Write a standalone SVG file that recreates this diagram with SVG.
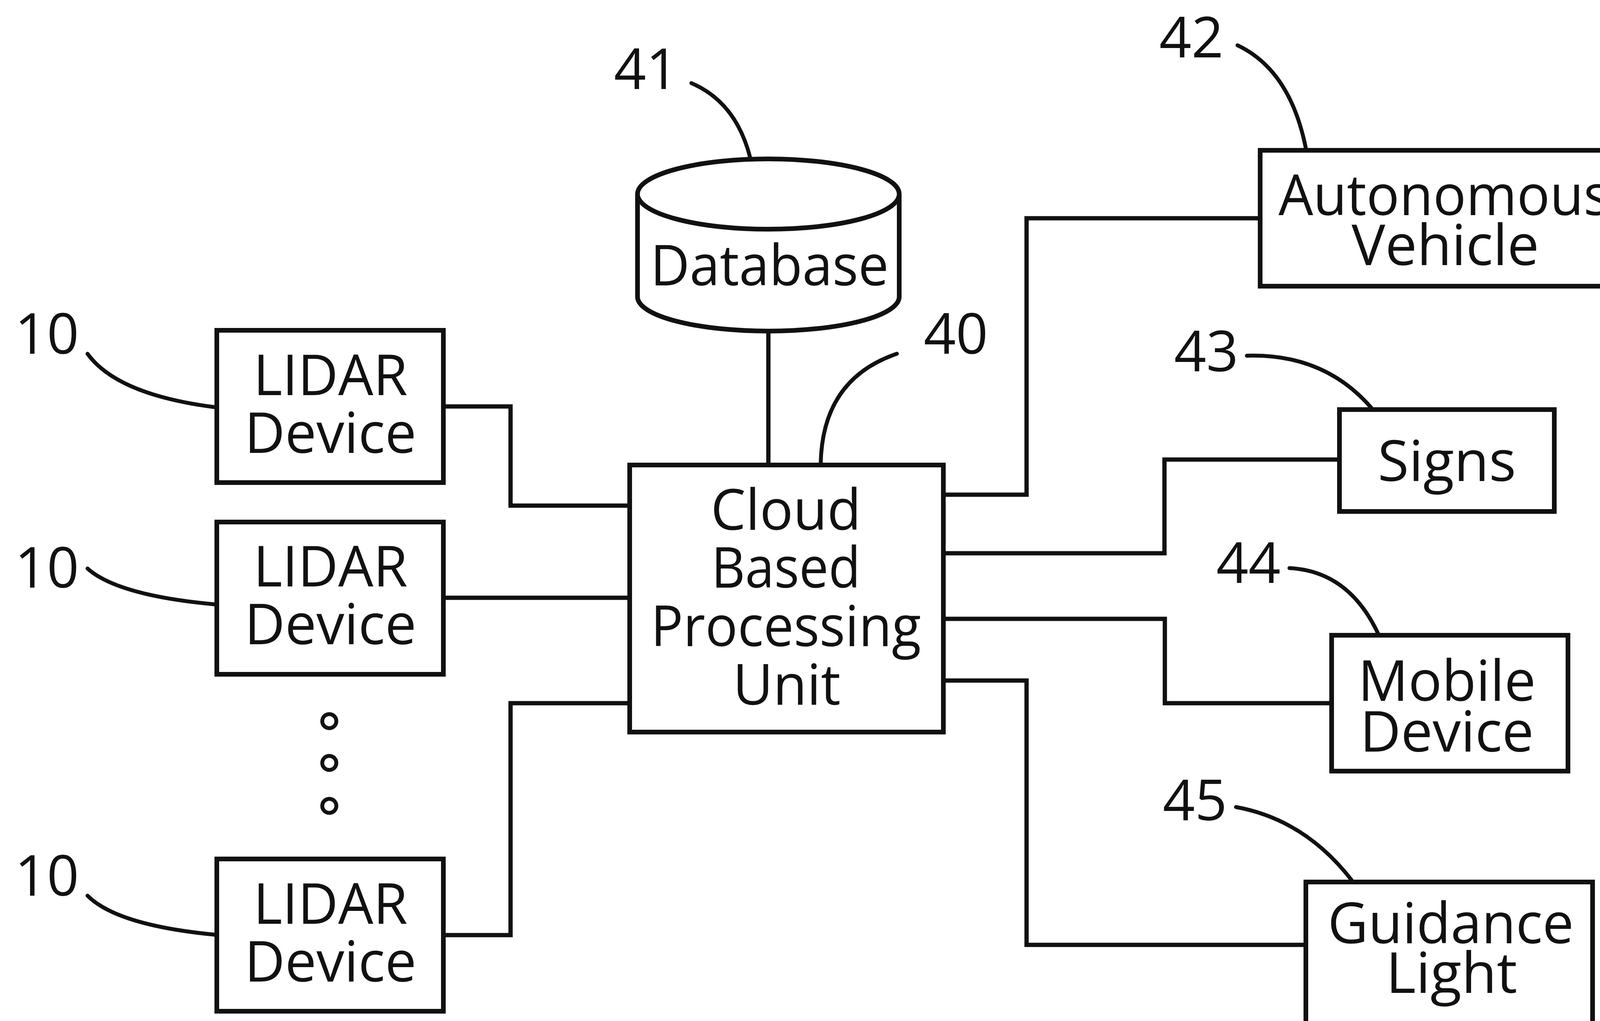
<svg xmlns="http://www.w3.org/2000/svg" width="4152" height="2615" viewBox="0 0 4152 2615">
  <style>
    .box { fill: #fff; stroke: #111; stroke-width: 12; }
    .open { fill: none; stroke: #111; stroke-width: 12; }
    .wire { fill: none; stroke: #111; stroke-width: 11; stroke-linejoin: miter; }
    .lead { fill: none; stroke: #111; stroke-width: 10; stroke-linecap: round; }
    .dot { fill: #fff; stroke: #111; stroke-width: 10; }
    text { font-family: "Open Sans", "Noto Sans", "Liberation Sans", sans-serif; font-size: 144px; fill: #111; text-anchor: middle; }
  </style>
  <rect width="4152" height="2615" fill="#fff"/>

  <g id="connectors">
    <path class="wire" d="M1967,848 V1188"/>
    <path class="wire" d="M1137,1041 H1307 V1295 H1607"/>
    <path class="wire" d="M1137,1531 H1607"/>
    <path class="wire" d="M1137,2395 H1307 V1801 H1607"/>
    <path class="wire" d="M2417,1267 H2628 V559 H3221"/>
    <path class="wire" d="M2417,1417 H2981 V1177 H3424"/>
    <path class="wire" d="M2417,1585 H2982 V1801 H3404"/>
    <path class="wire" d="M2417,1743 H2628 V2420 H3338"/>
  </g>

  <g id="leaders">
    <path class="lead" d="M224,906 Q300,1011 551,1043"/>
    <path class="lead" d="M224,1456 Q300,1525 551,1548"/>
    <path class="lead" d="M224,2294 Q300,2370 551,2394"/>
    <path class="lead" d="M1770,213 Q1885,262 1921,406"/>
    <path class="lead" d="M2296,906 Q2105,971 2101,1188"/>
    <path class="lead" d="M3168,116 Q3303,180 3343,380"/>
    <path class="lead" d="M3192,911 Q3390,905 3511,1045"/>
    <path class="lead" d="M3301,1455 Q3453,1463 3528,1623"/>
    <path class="lead" d="M3164,2067 Q3340,2099 3460,2254"/>
  </g>

  <g id="lidar1">
    <rect class="box" x="555" y="846" width="580" height="390"/>
    <text><tspan x="846" y="1012" textLength="395" lengthAdjust="spacingAndGlyphs">LIDAR</tspan><tspan x="846" y="1160" textLength="440" lengthAdjust="spacingAndGlyphs">Device</tspan></text>
  </g>
  <g id="lidar2">
    <rect class="box" x="555" y="1337" width="580" height="390"/>
    <text><tspan x="846" y="1502" textLength="395" lengthAdjust="spacingAndGlyphs">LIDAR</tspan><tspan x="846" y="1650" textLength="440" lengthAdjust="spacingAndGlyphs">Device</tspan></text>
  </g>
  <g id="ellipsis">
    <circle class="dot" cx="843" cy="1847" r="18"/>
    <circle class="dot" cx="843" cy="1954" r="18"/>
    <circle class="dot" cx="843" cy="2064" r="18"/>
  </g>
  <g id="lidar3">
    <rect class="box" x="555" y="2200" width="580" height="390"/>
    <text><tspan x="846" y="2366" textLength="395" lengthAdjust="spacingAndGlyphs">LIDAR</tspan><tspan x="846" y="2514" textLength="440" lengthAdjust="spacingAndGlyphs">Device</tspan></text>
  </g>
  <g id="label10">
    <text x="120" y="906">10</text>
    <text x="120" y="1505">10</text>
    <text x="120" y="2294">10</text>
  </g>

  <g id="database">
    <path class="box" d="M1632,497 V760 A335,88 0 0 0 2302,760 V497"/>
    <ellipse class="box" cx="1967" cy="497" rx="335" ry="90"/>
    <text x="1970" y="731" textLength="610" lengthAdjust="spacingAndGlyphs">Database</text>
    <text x="1654" y="228">41</text>
  </g>

  <g id="cloud">
    <rect class="box" x="1612" y="1191" width="803" height="684"/>
    <text><tspan x="2012" y="1357" textLength="385" lengthAdjust="spacingAndGlyphs">Cloud</tspan><tspan x="2012" y="1505" textLength="382" lengthAdjust="spacingAndGlyphs">Based</tspan><tspan x="2012" y="1655" textLength="692" lengthAdjust="spacingAndGlyphs">Processing</tspan><tspan x="2014" y="1805" textLength="276" lengthAdjust="spacingAndGlyphs">Unit</tspan></text>
    <text x="2447" y="906">40</text>
  </g>

  <g id="autonomous">
    <path class="open" d="M4160,385 H3226 V733 H4160"/>
    <text><tspan x="3697" y="551" textLength="848" lengthAdjust="spacingAndGlyphs">Autonomous</tspan><tspan x="3700" y="679" textLength="480" lengthAdjust="spacingAndGlyphs">Vehicle</tspan></text>
    <text x="3050" y="147">42</text>
  </g>

  <g id="signs">
    <rect class="box" x="3429" y="1049" width="550" height="261"/>
    <text x="3704" y="1232" textLength="354" lengthAdjust="spacingAndGlyphs">Signs</text>
    <text x="3088" y="951">43</text>
  </g>

  <g id="mobile">
    <rect class="box" x="3409" y="1627" width="605" height="348"/>
    <text><tspan x="3704" y="1795" textLength="455" lengthAdjust="spacingAndGlyphs">Mobile</tspan><tspan x="3704" y="1925" textLength="445" lengthAdjust="spacingAndGlyphs">Device</tspan></text>
    <text x="3196" y="1493">44</text>
  </g>

  <g id="guidance">
    <path class="open" d="M3343,2625 V2259 H4077 V2625"/>
    <text><tspan x="3714" y="2416" textLength="630" lengthAdjust="spacingAndGlyphs">Guidance</tspan><tspan x="3716" y="2543" textLength="336" lengthAdjust="spacingAndGlyphs">Light</tspan></text>
    <text x="3059" y="2101">45</text>
  </g>
</svg>
